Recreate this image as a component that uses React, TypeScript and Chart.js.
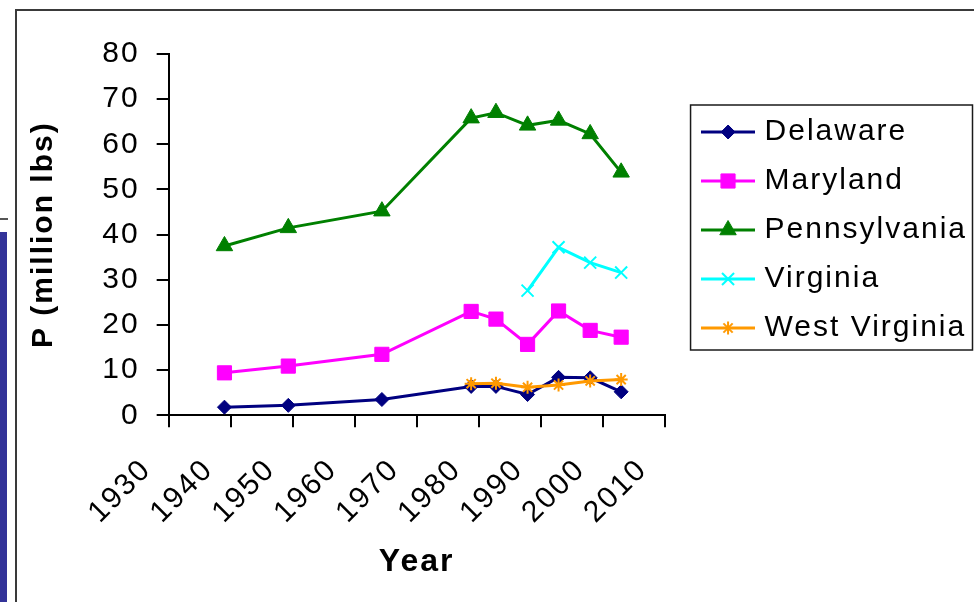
import React, { useEffect, useRef } from 'react';
import { Chart, registerables } from 'chart.js';
import { drawPoint } from 'chart.js/helpers';

Chart.register(...registerables);

// Census years and phosphorus loads (million lbs) by state
const years = [1939, 1949.3, 1964.4, 1978.8, 1982.8, 1987.9, 1992.9, 1998, 2003];
const delaware = [1.8, 2.2, 3.5, 6.4, 6.4, 4.6, 8.4, 8.3, 5.2];
const maryland = [9.4, 10.9, 13.5, 23.0, 21.3, 15.7, 23.1, 18.8, 17.3];
const pennsylvania = [37.5, 41.5, 45.2, 65.8, 67.0, 64.2, 65.3, 62.3, 53.8];
const virginia = [null, null, null, null, null, 27.6, 37.2, 33.8, 31.6];
const westVirginia = [null, null, null, 7.0, 7.1, 6.2, 6.7, 7.6, 7.9];

const seriesNames = ['Delaware', 'Maryland', 'Pennsylvania', 'Virginia', 'West Virginia'];
const seriesValues = [delaware, maryland, pennsylvania, virginia, westVirginia];
const seriesColors = ['#000080', '#FF00FF', '#008000', '#00FFFF', '#FF9900'];
const seriesMarkers = ['rectRot', 'rect', 'triangle', 'crossRot', 'star'];
const markerRadii = [7, 10, 9.5, 8.5, 6.5];
const markerBorders = [1, 1, 1, 2, 2];

const yearTicks = [1930, 1940, 1950, 1960, 1970, 1980, 1990, 2000, 2010];
const valueTicks = [0, 10, 20, 30, 40, 50, 60, 70, 80];

const FONT = '"Liberation Sans", Arial, sans-serif';
const LETTER_SPACING = '2px';
const GAP_WIDTH = 23;

function makeLegendSymbol(i: number): HTMLCanvasElement {
  const c = document.createElement('canvas');
  c.width = 54;
  c.height = 24;
  const g = c.getContext('2d') as CanvasRenderingContext2D;
  g.strokeStyle = seriesColors[i];
  g.lineWidth = 3;
  g.beginPath();
  g.moveTo(0, 12);
  g.lineTo(54, 12);
  g.stroke();
  g.fillStyle = seriesColors[i];
  g.lineWidth = markerBorders[i];
  drawPoint(g, { pointStyle: seriesMarkers[i], radius: markerRadii[i], rotation: 0, borderWidth: markerBorders[i] } as any, 27, 12);
  return c;
}

const spacingPlugin = {
  id: 'letterSpacing',
  beforeUpdate(chart: any) { chart.ctx.letterSpacing = LETTER_SPACING; },
  beforeLayout(chart: any) { chart.ctx.letterSpacing = LETTER_SPACING; },
  beforeDraw(chart: any) { chart.ctx.letterSpacing = LETTER_SPACING; },
};

const legendFramePlugin = {
  id: 'legendFrame',
  afterDraw(chart: any) {
    const boxes = chart.legend && chart.legend.legendHitBoxes;
    if (!boxes || !boxes.length) return;
    const left = Math.min(...boxes.map((b: any) => b.left)) - 16;
    const right = Math.min(chart.width - 1.5, Math.max(...boxes.map((b: any) => b.left + b.width)) + 8);
    const top = boxes[0].top - 12;
    const bottom = boxes[boxes.length - 1].top + 37;
    const ctx = chart.ctx;
    ctx.save();
    ctx.strokeStyle = '#1a1a1a';
    ctx.lineWidth = 1.5;
    ctx.strokeRect(left, top, right - left, bottom - top);
    ctx.restore();
  },
};

export default function App() {
  const canvasRef = useRef<HTMLCanvasElement | null>(null);

  useEffect(() => {
    const canvas = canvasRef.current;
    if (!canvas) return;
    const symbols = seriesNames.map((_, i) => makeLegendSymbol(i));

    const datasets = seriesNames.map((name, i) => ({
      label: name,
      data: years.map((yr, k) => ({ x: yr, y: seriesValues[i][k] })),
      borderColor: seriesColors[i],
      backgroundColor: seriesColors[i],
      borderWidth: 3,
      pointStyle: seriesMarkers[i],
      pointRadius: markerRadii[i],
      pointHoverRadius: markerRadii[i],
      pointBackgroundColor: seriesColors[i],
      pointBorderColor: seriesColors[i],
      pointBorderWidth: markerBorders[i],
      tension: 0,
      spanGaps: false,
      order: seriesNames.length - i,
    }));

    const chart = new Chart(canvas, {
      type: 'line',
      data: { datasets },
      plugins: [spacingPlugin, legendFramePlugin],
      options: {
        animation: false,
        responsive: false,
        maintainAspectRatio: false,
        layout: { padding: { left: 7, top: 54, right: -3, bottom: 0 } },
        plugins: {
          tooltip: { enabled: false },
          legend: {
            position: 'right',
            align: 'start',
            fullSize: false,
            maxWidth: 400,
            title: { display: true, text: ' ', font: { size: 10 }, padding: { top: 32, bottom: 0 } },
            labels: {
              usePointStyle: true,
              pointStyleWidth: 43,
              padding: 19,
              color: '#000',
              font: { family: FONT, size: 30 },
              generateLabels: (c: any) =>
                c.data.datasets.map((ds: any, i: number) => ({
                  text: ds.label,
                  pointStyle: symbols[i],
                  fillStyle: seriesColors[i],
                  strokeStyle: seriesColors[i],
                  lineWidth: 0,
                  hidden: false,
                  datasetIndex: i,
                  fontColor: '#000',
                })),
            },
          },
        },
        scales: {
          x: {
            type: 'linear',
            min: yearTicks[0],
            max: yearTicks[yearTicks.length - 1],
            ticks: {
              stepSize: yearTicks[1] - yearTicks[0],
              minRotation: 45,
              maxRotation: 45,
              autoSkip: false,
              padding: 25,
              labelOffset: -22,
              color: '#000',
              font: { family: FONT, size: 30 },
              callback: (v: any) => String(v),
            },
            grid: { drawOnChartArea: false, drawTicks: true, tickLength: 12, color: '#000', lineWidth: 2 },
            border: { display: true, color: '#000', width: 2 },
            title: {
              display: true,
              text: 'Year',
              color: '#000',
              font: { family: FONT, size: 32, weight: 'bold' },
              padding: { top: -13, bottom: 21 },
            },
          },
          y: {
            min: valueTicks[0],
            max: valueTicks[valueTicks.length - 1],
            ticks: {
              stepSize: valueTicks[1] - valueTicks[0],
              padding: 17,
              color: '#000',
              font: { family: FONT, size: 30 },
            },
            grid: { drawOnChartArea: false, drawTicks: true, tickLength: 12, color: '#000', lineWidth: 2 },
            border: { display: true, color: '#000', width: 2 },
            title: {
              display: true,
              text: 'P (million lbs)',
              color: '#000',
              font: { family: FONT, size: 30, weight: 'bold' },
              padding: { top: 19, bottom: 30 },
            },
          },
          gap: {
            type: 'linear',
            position: 'right',
            display: true,
            grid: { display: false, drawTicks: false },
            border: { display: false },
            ticks: { display: false },
            afterFit: (s: any) => { s.width = GAP_WIDTH; },
          },
        },
      } as any,
    });

    return () => chart.destroy();
  }, []);

  return (
    <div style={{ position: 'fixed', left: 0, top: 0, width: 974, height: 602, background: '#fff', overflow: 'hidden' }}>
      <div style={{ position: 'absolute', left: 15, top: 9, width: 1000, height: 700, borderLeft: '2px solid #3a3a3a', borderTop: '2px solid #3a3a3a' }} />
      <div style={{ position: 'absolute', left: 0, top: 218, width: 8, height: 2, background: '#555' }} />
      <div style={{ position: 'absolute', left: 0, top: 232, width: 7, height: 370, background: '#333399' }} />
      <canvas ref={canvasRef} width={974} height={602} style={{ position: 'absolute', left: 0, top: 0 }} />
    </div>
  );
}
